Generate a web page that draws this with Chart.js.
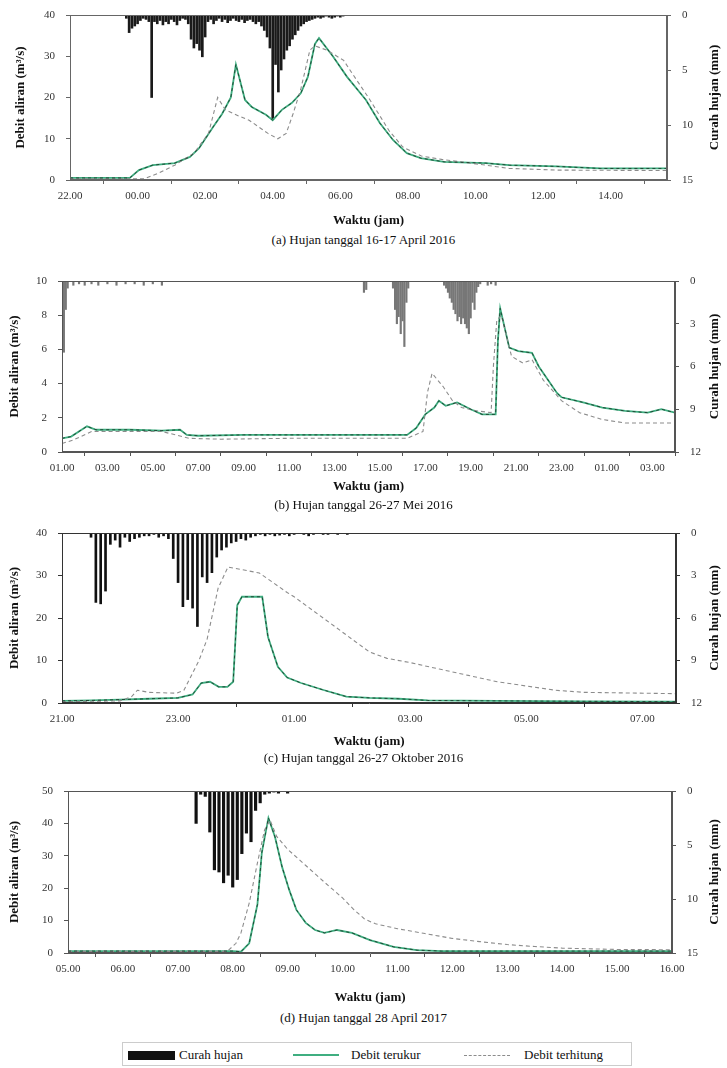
<!DOCTYPE html>
<html>
<head>
<meta charset="utf-8">
<script src="https://cdn.jsdelivr.net/npm/chart.js@4.4.1/dist/chart.umd.min.js"></script>
<style>
  html,body{margin:0;padding:0;background:#fff;}
  body{width:727px;height:1068px;position:relative;overflow:hidden;font-family:'Liberation Serif','DejaVu Serif',serif;color:#111;}
  canvas{position:absolute;left:0;}
  .cap{position:absolute;left:0;width:727px;text-align:center;font-size:13px;line-height:16px;}
  .legend{position:absolute;left:122px;top:1042px;width:510px;height:24px;border:1px solid #ccc;box-sizing:border-box;font-size:13px;}
  .legend span{position:absolute;top:4px;}
  .legend i{position:absolute;display:block;}
</style>
</head>
<body>
<canvas id="ca"></canvas>
<canvas id="cb"></canvas>
<canvas id="cc"></canvas>
<canvas id="cd"></canvas>
<div class="cap" style="top:232px">(a) Hujan tanggal 16-17 April 2016</div>
<div class="cap" style="top:497px">(b) Hujan tanggal 26-27 Mei 2016</div>
<div class="cap" style="top:750px">(c) Hujan tanggal 26-27 Oktober 2016</div>
<div class="cap" style="top:1010px">(d) Hujan tanggal 28 April 2017</div>
<div class="legend">
  <i style="left:5px;top:8px;width:47px;height:9px;background:#111"></i>
  <span style="left:56px">Curah hujan</span>
  <i style="left:170px;top:11px;width:46px;height:0;border-top:2px solid #3fae80"></i>
  <span style="left:228px">Debit terukur</span>
  <i style="left:341px;top:12px;width:46px;height:0;border-top:1px dashed #8c8c8c"></i>
  <span style="left:401px">Debit terhitung</span>
</div>
<script>
// ---------------- DATA ----------------
// time values are hours after the first tick of each panel; rain in mm, discharge in m3/s
const RAIN_STEP = 5 / 60; // 5-minute rainfall record

// (a) 16-17 April 2016, start 22.00
const aTickHours = [0, 2, 4, 6, 8, 10, 12, 14, 16];
const aTickLabels = ['22.00', '00.00', '02.00', '04.00', '06.00', '08.00', '10.00', '12.00', '14.00'];
const aMeasT = [0, 1.77, 2.04, 2.45, 3.1, 3.55, 3.82, 4.23, 4.5, 4.76, 4.91, 5.18, 5.38, 5.8, 6.0, 6.27, 6.57, 6.83, 7.04, 7.25, 7.37, 7.78, 8.2, 8.76, 9.17, 9.56, 9.97, 10.38, 11.07, 12.3, 13.0, 14.4, 15.7, 17.67];
const aMeasQ = [0.5, 0.5, 2.4, 3.6, 4.1, 5.6, 7.7, 12.8, 16, 20, 28, 19.4, 17.7, 15.8, 14.5, 17, 18.7, 21, 25, 33, 34.4, 30, 25, 19.4, 13.8, 9.7, 6.5, 5.3, 4.4, 4.1, 3.6, 3.3, 2.8, 2.8];
const aCompT = [0, 2.2, 2.6, 3.1, 3.67, 4.1, 4.37, 4.6, 5.0, 5.3, 5.86, 6.15, 6.4, 6.6, 6.83, 7.1, 7.25, 7.6, 8.1, 8.34, 8.88, 9.44, 9.85, 10.4, 11.0, 12.3, 13.0, 14.4, 17.67];
const aCompQ = [0.3, 0.3, 1.6, 3.6, 6.5, 11.3, 20, 17, 15.5, 14.5, 11.3, 10, 11.3, 16, 22, 31.5, 32.5, 31.5, 29, 26, 19.4, 12, 8, 5.8, 5.0, 3.6, 2.8, 2.4, 2.3];
const aRainStart = 1.667;
const aRain = [0.3, 1.6, 1.2, 1.0, 0.8, 0.5, 0.3, 0.4, 0.6, 7.5, 0.6, 0.8, 0.5, 0.9, 0.6, 0.8, 0.4, 0.6, 0.9, 0.5, 0.3, 0.4, 0.8, 2.2, 3.0, 2.6, 3.2, 3.8, 2.0, 0.6, 0.4, 0.8, 0.5, 0.3, 0.6, 0.4, 0.7, 0.5, 0.3, 0.5, 0.6, 0.4, 0.7, 0.5, 0.4, 0.6, 0.8, 0.6, 1.0, 1.4, 2.0, 3.0, 9.5, 4.5, 7.0, 5.0, 4.0, 3.2, 2.8, 2.2, 1.8, 1.4, 1.0, 0.8, 0.6, 0.5, 0.4, 0.3, 0.2, 0.3, 0.2, 0.1, 0.2, 0.3, 0.2, 0.1, 0.2, 0.1];

// (b) 26-27 Mei 2016, start 01.00
const bTickHours = [0, 2, 4, 6, 8, 10, 12, 14, 16, 18, 20, 22, 24, 26];
const bTickLabels = ['01.00', '03.00', '05.00', '07.00', '09.00', '11.00', '13.00', '15.00', '17.00', '19.00', '21.00', '23.00', '01.00', '03.00'];
const bMeasT = [0, 0.4, 1.1, 1.5, 3, 4.4, 5.2, 5.5, 6.0, 8, 12, 15.2, 15.6, 16.0, 16.4, 16.6, 16.9, 17.4, 18.0, 18.5, 19.1, 19.2, 19.3, 19.7, 20.1, 20.7, 21.0, 21.8, 22.0, 22.95, 23.8, 24.8, 25.8, 26.4, 27];
const bMeasQ = [0.8, 0.9, 1.5, 1.3, 1.3, 1.25, 1.3, 1.0, 0.95, 1.0, 1.0, 1.0, 1.4, 2.2, 2.6, 3.0, 2.7, 2.9, 2.5, 2.2, 2.2, 6.5, 8.4, 6.1, 5.9, 5.8, 5.0, 3.45, 3.2, 2.9, 2.6, 2.4, 2.3, 2.5, 2.3];
const bCompT = [0, 0.5, 1.3, 2.5, 4.4, 5.0, 5.6, 7, 10, 15.2, 15.9, 16.1, 16.3, 16.8, 17.2, 17.6, 18.3, 18.9, 19.0, 19.15, 19.35, 19.8, 20.3, 20.7, 21.2, 22.0, 22.8, 23.8, 24.8, 27];
const bCompQ = [0.5, 0.7, 1.2, 1.2, 1.2, 1.0, 0.8, 0.75, 0.8, 0.8, 1.2, 3.5, 4.6, 3.8, 3.0, 2.6, 2.4, 2.3, 5.0, 7.7, 8.0, 5.6, 5.2, 5.4, 4.2, 3.0, 2.3, 1.9, 1.7, 1.7];
const bRainT = [0.0, 0.083, 0.167, 0.25, 0.5, 0.75, 1.0, 1.3, 1.6, 2.0, 2.4, 2.8, 3.2, 3.6, 4.0, 4.4, 13.3, 13.4, 14.58, 14.67, 14.75, 14.83, 14.92, 15.0, 15.08, 15.17, 15.25, 16.83, 16.92, 17.0, 17.08, 17.17, 17.25, 17.33, 17.42, 17.5, 17.58, 17.67, 17.75, 17.83, 17.92, 18.0, 18.08, 18.17, 18.25, 18.33, 18.42, 18.75, 18.9, 19.1];
const bRain = [3.0, 5.0, 2.0, 0.5, 0.3, 0.2, 0.3, 0.2, 0.3, 0.2, 0.3, 0.2, 0.2, 0.3, 0.2, 0.3, 0.8, 0.6, 0.5, 2.0, 3.0, 2.5, 3.7, 2.8, 4.6, 1.5, 0.5, 0.3, 0.5, 0.8, 1.2, 1.5, 2.0, 2.3, 2.8, 2.5, 3.0, 2.6, 3.0, 3.3, 3.7, 2.6, 1.5, 2.0, 0.8, 0.4, 0.2, 0.3, 0.2, 0.3];

// (c) 26-27 Oktober 2016, start 21.00
const cTickHours = [0, 2, 4, 6, 8, 10];
const cTickLabels = ['21.00', '23.00', '01.00', '03.00', '05.00', '07.00'];
const cMeasT = [0, 0.5, 1.0, 1.5, 2.0, 2.25, 2.4, 2.55, 2.7, 2.85, 2.95, 3.02, 3.1, 3.45, 3.55, 3.72, 3.88, 4.12, 4.52, 4.9, 5.3, 5.8, 6.3, 7.5, 9, 10.58];
const cMeasQ = [0.5, 0.6, 0.8, 1.0, 1.2, 2.0, 4.7, 5.0, 3.8, 3.8, 5, 23, 25, 25, 15.5, 8.5, 6, 4.7, 3, 1.5, 1.2, 1.0, 0.6, 0.5, 0.4, 0.3];
const cCompT = [0, 1.0, 1.2, 1.3, 1.5, 1.97, 2.1, 2.36, 2.5, 2.69, 2.86, 3.4, 3.88, 4.0, 4.5, 5.0, 5.3, 5.6, 6.0, 6.5, 7.0, 7.5, 8.0, 8.5, 9.0, 10.58];
const cCompQ = [0.3, 0.5, 1.5, 3.0, 2.5, 2.3, 3.0, 10, 15, 27, 32, 30.6, 26, 25, 20, 15, 12, 10.5, 9.5, 8, 6.5, 5, 4, 3, 2.5, 2.2];
const cRainStart = 0.5;
const cRain = [0.3, 4.9, 5.0, 4.1, 0.8, 0.5, 1.0, 0.3, 0.6, 0.4, 0.3, 0.2, 0.2, 0.1, 0.3, 0.2, 0.4, 1.8, 3.5, 5.2, 4.7, 5.3, 6.6, 3.1, 3.5, 2.8, 1.7, 1.2, 1.0, 0.7, 0.6, 0.4, 0.5, 0.3, 0.2, 0.1, 0.2, 0.1, 0.2, 0.15, 0.1, 0.2, 0.1, 0, 0.1, 0.2, 0.1, 0, 0.1, 0.1, 0, 0.1, 0, 0.1];

// (d) 28 April 2017, start 05.00
const dTickHours = [0, 1, 2, 3, 4, 5, 6, 7, 8, 9, 10, 11];
const dTickLabels = ['05.00', '06.00', '07.00', '08.00', '09.00', '10.00', '11.00', '12.00', '13.00', '14.00', '15.00', '16.00'];
const dMeasT = [0, 3.0, 3.15, 3.3, 3.45, 3.53, 3.65, 3.77, 3.9, 4.03, 4.16, 4.33, 4.5, 4.67, 4.9, 5.17, 5.5, 5.93, 6.35, 6.8, 8, 11];
const dMeasQ = [0.6, 0.6, 0.4, 3, 15, 31, 41.7, 35.8, 26.5, 19.4, 13.3, 9.3, 7.1, 6.2, 7.1, 6.2, 4, 1.9, 0.9, 0.6, 0.6, 0.6];
const dCompT = [0, 2.9, 3.06, 3.15, 3.3, 3.45, 3.58, 3.68, 3.8, 4.0, 4.33, 4.66, 5.0, 5.2, 5.4, 5.6, 6.0, 6.5, 7.0, 7.5, 8.0, 8.5, 9.0, 10, 11];
const dCompQ = [0.5, 0.5, 3, 6.2, 15.4, 27.8, 38, 41, 36, 32, 27, 22, 17, 13.5, 10.5, 9, 7.5, 6, 4.5, 3.5, 2.6, 2.0, 1.5, 1.1, 1.0];
const dRainStart = 2.333;
const dRain = [3.0, 0.3, 0.5, 3.8, 7.3, 7.5, 8.5, 7.8, 8.9, 8.2, 5.8, 3.9, 4.7, 1.8, 1.1, 0.3, 0.2, 0.1, 0.2, 0, 0.2];

// ---------------- DRAWING ----------------
const FONT = "'Liberation Serif','DejaVu Serif',serif";
const W = 727;
const pts = (T, Q) => T.map((t, i) => ({x: t, y: Q[i]}));
const grid = (start, V) => V.map((v, i) => ({x: start + i * RAIN_STEP, y: v}));

const framePlugin = {
  id: 'frame',
  afterDatasetsDraw(chart, args, opts) {
    const a = chart.chartArea, ctx = chart.ctx;
    ctx.save();
    ctx.strokeStyle = opts.color || '#444';
    ctx.lineWidth = 1;
    ctx.strokeRect(Math.round(a.left) + 0.5, Math.round(a.top) + 0.5, Math.round(a.right - a.left) - 1, Math.round(a.bottom - a.top) - 1);
    ctx.restore();
  }
};
const rightTitlePlugin = {
  id: 'rightTitle',
  afterDraw(chart, args, opts) {
    const a = chart.chartArea, ctx = chart.ctx;
    ctx.save();
    ctx.translate(opts.x, (a.top + a.bottom) / 2);
    ctx.rotate(-Math.PI / 2);
    ctx.font = 'bold 13px ' + FONT;
    ctx.fillStyle = '#111';
    ctx.textAlign = 'center';
    ctx.textBaseline = 'middle';
    ctx.fillText(opts.text, 0, 0);
    ctx.restore();
  }
};

function makeChart(id, p) {
  const cv = document.getElementById(id);
  const padTop = 22;
  const h = (p.B - p.T) + padTop + p.xAxisH;
  cv.width = W; cv.height = h;
  cv.style.width = W + 'px'; cv.style.height = h + 'px';
  cv.style.top = (p.T - padTop) + 'px';
  const tickFont = {family: FONT, size: 11};
  const titleFont = {family: FONT, size: 13, weight: 'bold'};
  new Chart(cv.getContext('2d'), {
    type: 'line',
    data: {
      datasets: [
        {type: 'line', label: 'Debit terhitung', data: p.comp, borderColor: '#8c8c8c', borderWidth: 1.1, borderDash: [4, 3], pointRadius: 0, yAxisID: 'y', order: 1},
        {type: 'line', label: 'Debit terukur', data: p.meas, borderColor: '#3fae80', borderWidth: 1.8, pointRadius: 0, yAxisID: 'y', order: 2},
        {type: 'line', label: 'Debit terukur ', data: p.meas, borderColor: 'rgba(25,55,40,0.85)', borderWidth: 1, borderDash: [3, 3], pointRadius: 0, yAxisID: 'y', order: 0},
        {type: 'bar', label: 'Curah hujan', data: p.rain, backgroundColor: p.rainColor, barThickness: p.barW, yAxisID: 'y2', order: 3}
      ]
    },
    options: {
      responsive: false, animation: false, devicePixelRatio: 1,
      layout: {padding: {top: padTop, left: 0, right: 0, bottom: 0}},
      plugins: {legend: {display: false}, tooltip: {enabled: false},
        frame: {color: p.frameColor}, rightTitle: {text: 'Curah hujan (mm)', x: 715}},
      scales: {
        x: {
          type: 'linear', min: 0, max: p.xMax, offset: false,
          grid: {display: true, drawOnChartArea: false, tickLength: 4, color: p.frameColor},
          border: {color: p.frameColor},
          ticks: {autoSkip: false, maxRotation: 0, padding: 6, font: tickFont, color: '#333',
            callback: (v, i) => p.tickLabels[i]},
          afterBuildTicks: s => { s.ticks = p.tickHours.map(v => ({value: v})); },
          afterFit: s => { s.height = p.xAxisH; },
          title: {display: true, text: 'Waktu (jam)', font: titleFont, color: '#111', padding: {top: 0, bottom: 4}}
        },
        y: {
          position: 'left', min: 0, max: p.yMax,
          grid: {display: true, drawOnChartArea: false, tickLength: 4, color: p.frameColor},
          border: {color: p.frameColor},
          ticks: {stepSize: p.yStep, padding: 11, font: tickFont, color: '#333'},
          afterFit: s => { s.width = p.L; },
          title: {display: true, text: 'Debit aliran (m³/s)', font: titleFont, color: '#111', padding: {top: p.titlePad, bottom: 0}}
        },
        y2: {
          position: 'right', reverse: true, min: 0, max: p.y2Max,
          grid: {display: true, drawOnChartArea: false, tickLength: 4, color: p.frameColor},
          border: {color: p.frameColor},
          ticks: {stepSize: p.y2Step, padding: 11, font: tickFont, color: '#333'},
          afterFit: s => { s.width = W - p.R; }
        }
      }
    },
    plugins: [framePlugin, rightTitlePlugin]
  });
}

makeChart('ca', {L: 70, R: 667, T: 15, B: 180, xAxisH: 52, xMax: 17.67, titlePad: 13,
  tickHours: aTickHours, tickLabels: aTickLabels, yMax: 40, yStep: 10, y2Max: 15, y2Step: 5,
  meas: pts(aMeasT, aMeasQ), comp: pts(aCompT, aCompQ), rain: grid(aRainStart, aRain),
  rainColor: '#1a1a1a', barW: 2, frameColor: '#666'});
makeChart('cb', {L: 62, R: 675, T: 281, B: 452, xAxisH: 46, xMax: 27, titlePad: 7,
  tickHours: bTickHours, tickLabels: bTickLabels, yMax: 10, yStep: 2, y2Max: 12, y2Step: 3,
  meas: pts(bMeasT, bMeasQ), comp: pts(bCompT, bCompQ), rain: pts(bRainT, bRain),
  rainColor: '#777', barW: 1.5, frameColor: '#555'});
makeChart('cc', {L: 62, R: 676, T: 533, B: 703, xAxisH: 50, xMax: 10.58, titlePad: 7,
  tickHours: cTickHours, tickLabels: cTickLabels, yMax: 40, yStep: 10, y2Max: 12, y2Step: 3,
  meas: pts(cMeasT, cMeasQ), comp: pts(cCompT, cCompQ), rain: grid(cRainStart, cRain),
  rainColor: '#111', barW: 2, frameColor: '#333'});
makeChart('cd', {L: 68, R: 672, T: 791, B: 953, xAxisH: 56, xMax: 11, titlePad: 7,
  tickHours: dTickHours, tickLabels: dTickLabels, yMax: 50, yStep: 10, y2Max: 15, y2Step: 5,
  meas: pts(dMeasT, dMeasQ), comp: pts(dCompT, dCompQ), rain: grid(dRainStart, dRain),
  rainColor: '#111', barW: 2.5, frameColor: '#555'});
</script>
</body>
</html>
